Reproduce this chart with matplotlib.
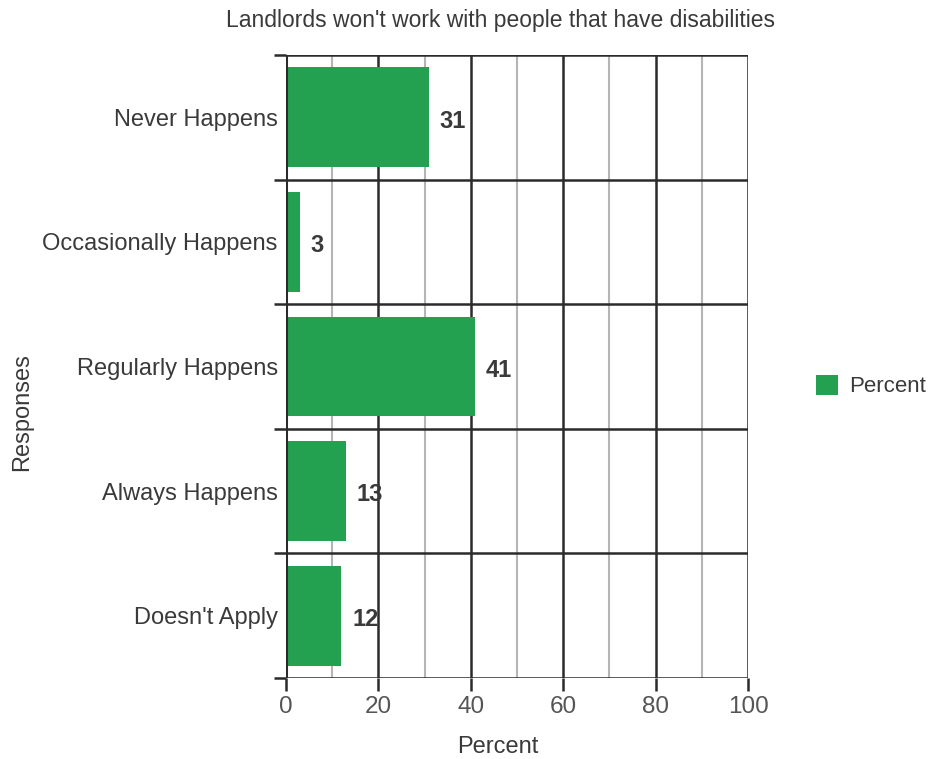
import numpy as np
import matplotlib.pyplot as plt
from matplotlib.patches import Patch

plt.rcParams['font.family'] = ['Liberation Sans', 'DejaVu Sans']

categories = ["Never Happens", "Occasionally Happens", "Regularly Happens",
              "Always Happens", "Doesn't Apply"]
percent = [31, 3, 41, 13, 12]
x_ticks = [0, 20, 40, 60, 80, 100]
x_minor = [10, 30, 50, 70, 90]

green = '#23a050'
dark = '#2b2b2b'
txt = '#3a3a3a'

fig = plt.figure(figsize=(9.3, 7.59), dpi=100)
ax = fig.add_axes([286/930, 1 - 678/759, (748 - 286)/930, (678 - 55)/759])

y = np.arange(len(categories))
ax.barh(y, percent, height=0.8, color=green, zorder=3)
for yi, v in zip(y, percent):
    ax.text(v + 2.3, yi + 0.03, str(v), va='center', ha='left', fontsize=17,
            fontweight='bold', color=txt, zorder=4)

ax.set_xlim(0, 100)
ax.set_ylim(len(categories) - 0.5, -0.5)

ax.set_xticks(x_ticks)
ax.set_xticks(x_minor, minor=True)
ax.set_yticks(y)
ax.set_yticklabels(categories)
ax.set_yticks(np.arange(len(categories) + 1) - 0.5, minor=True)

ax.tick_params(axis='y', which='major', length=0, pad=6, labelsize=17, labelcolor=txt)
ax.tick_params(axis='y', which='minor', length=9, width=1.8, color=dark)
ax.tick_params(axis='x', which='major', length=9, width=1.8, color=dark,
               labelsize=17.5, labelcolor='#555555', pad=4)
ax.tick_params(axis='x', which='minor', length=0)

ax.grid(axis='x', which='major', color=dark, linewidth=1.8, zorder=1)
ax.grid(axis='x', which='minor', color='#b5b5b5', linewidth=1.5, zorder=1)
ax.grid(axis='y', which='minor', color=dark, linewidth=1.8, zorder=1)
ax.set_axisbelow(True)
for s in ax.spines.values():
    s.set_visible(False)
ax.axvline(0, color=dark, linewidth=2.2, zorder=5)

fig.text(498/930, 1 - 747/759, 'Percent', ha='center', va='center',
         fontsize=17, color=txt)
fig.text(500/930, 1 - 20/759, "Landlords won't work with people that have disabilities",
         ha='center', va='center', fontsize=16.5, color=txt)
fig.text(22/930, 1 - 412/759, 'Responses', rotation=90, ha='center', va='center',
         fontsize=17, color=txt)

fig.legend(handles=[Patch(facecolor=green, label='Percent')], loc='center left',
           bbox_to_anchor=(816/930, 1 - 386/759), frameon=False, fontsize=16,
           handlelength=1.0, handleheight=1.0, handletextpad=0.5, labelcolor=txt,
           borderpad=0, borderaxespad=0)

fig.savefig('out.png', dpi=100)
